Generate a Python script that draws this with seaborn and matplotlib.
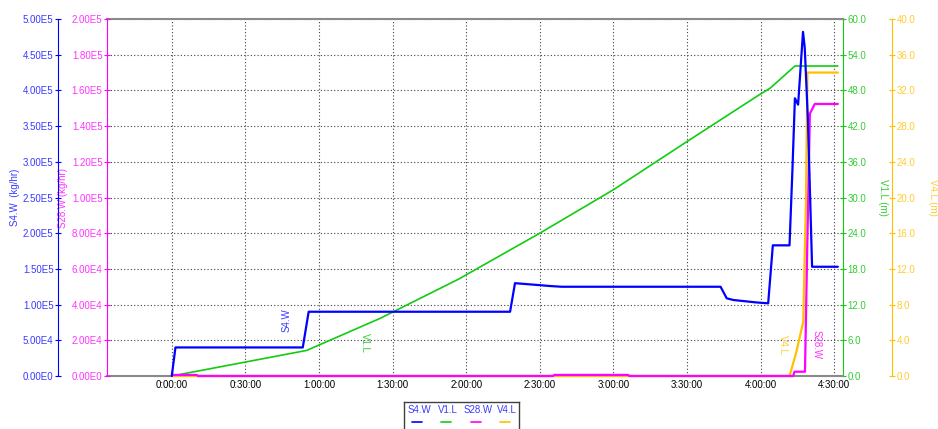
import numpy as np
import pandas as pd
import matplotlib.pyplot as plt
import seaborn as sns

# time axis in minutes from start of run
s4w_t = [0, 1.5, 53.4, 55.8, 137.9, 139.9, 149.4, 154.2, 158.9, 223.7, 226.2, 229.0,
         238.4, 243.1, 245.0, 251.8, 253.0, 254.0, 255.3, 257.3, 258.0, 259.3, 261.0, 271.5]
s4w = [0, 4.0e4, 4.0e4, 9.0e4, 9.0e4, 1.30e5, 1.274e5, 1.26e5, 1.25e5, 1.25e5, 1.088e5, 1.064e5,
       1.03e5, 1.018e5, 1.83e5, 1.83e5, 2.9e5, 3.89e5, 3.80e5, 4.82e5, 4.6e5, 3.59e5, 1.53e5, 1.53e5]

v1l_t = [0, 55, 85, 117, 150, 180, 210, 240, 244, 254, 271.5]
v1l = [0, 4.3, 9.7, 16.3, 24.0, 31.3, 39.4, 47.4, 48.4, 52.1, 52.1]

s28w_t = [0, 0.5, 10.2, 10.7, 155.4, 155.9, 186.0, 186.5, 253.3, 253.8, 258.1, 259.0,
          260.1, 262.1, 271.5]
s28w = [0, 6e2, 6e2, 0, 0, 6e2, 6e2, 0, 0, 2.4e3, 2.4e3, 7.0e4,
        1.47e5, 1.524e5, 1.524e5]

v4l_t = [0, 251.8, 254.5, 257.4, 258.5, 259.1, 271.5]
v4l = [0, 0, 2.6, 6.1, 19.7, 34.0, 34.0]

# ticks
x_ticks = [0, 30, 60, 90, 120, 150, 180, 210, 240, 270]
x_labels = ["0:00:00", "0:30:00", "1:00:00", "1:30:00", "2:00:00", "2:30:00",
            "3:00:00", "3:30:00", "4:00:00", "4:30:00"]
s4w_ticks = [0, 5e4, 1e5, 1.5e5, 2e5, 2.5e5, 3e5, 3.5e5, 4e5, 4.5e5, 5e5]
s4w_labels = ["0.00E0", "5.00E4", "1.00E5", "1.50E5", "2.00E5", "2.50E5",
              "3.00E5", "3.50E5", "4.00E5", "4.50E5", "5.00E5"]
s28w_ticks = [0, 2e4, 4e4, 6e4, 8e4, 1e5, 1.2e5, 1.4e5, 1.6e5, 1.8e5, 2e5]
s28w_labels = ["0.00E0", "2.00E4", "4.00E4", "6.00E4", "8.00E4", "1.00E5",
               "1.20E5", "1.40E5", "1.60E5", "1.80E5", "2.00E5"]
v1l_ticks = [0, 6, 12, 18, 24, 30, 36, 42, 48, 54, 60]
v1l_labels = ["0.0", "6.0", "12.0", "18.0", "24.0", "30.0", "36.0", "42.0", "48.0", "54.0", "60.0"]
v4l_ticks = [0, 4, 8, 12, 16, 20, 24, 28, 32, 36, 40]
v4l_labels = ["0.0", "4.0", "8.0", "12.0", "16.0", "20.0", "24.0", "28.0", "32.0", "36.0", "40.0"]

blue, blue_txt = "#0000ff", "#3a3aff"
green, green_txt = "#11cc11", "#33cc33"
mag, mag_txt = "#ff00ff", "#ff33ff"
yel, yel_txt = "#ffc000", "#ffcc33"

sns.set_style("white")
plt.rcParams["font.family"] = ["Liberation Sans", "DejaVu Sans"]
plt.rcParams["font.size"] = 7

fig = plt.figure(figsize=(9.38, 4.29), dpi=100)
ax = fig.add_axes([107/938, 1-376/429, (843-107)/938, (376-19)/429])
ax_g = ax.twinx()
ax_y = ax.twinx()
ax_m = ax.twinx()
ax.set_zorder(4)
ax.patch.set_visible(False)

off = 49*0.72  # outward offset in points

# blue axis (base)
sns.lineplot(x=s4w_t, y=s4w, ax=ax, color=blue, linewidth=1.6, estimator=None, sort=False)
ax.set_xlim(-26.4, 273.6)
ax.set_ylim(0, 5e5)
ax.set_xticks(x_ticks)
ax.set_xticklabels(x_labels)
ax.set_yticks(s4w_ticks)
ax.set_yticklabels(s4w_labels)
ax.spines["left"].set_position(("outward", off))
ax.spines["left"].set_color(blue)
ax.spines["right"].set_visible(False)
for s in ["top", "bottom"]:
    ax.spines[s].set_visible(False)
ax.tick_params(axis="y", direction="inout", length=4.5, width=0.8, color=blue,
               labelcolor=blue_txt, pad=1, labelsize=7, left=True)
ax.tick_params(axis="x", length=0, pad=3, labelsize=7, labelcolor="black")
ax.set_xlabel("")
ax.set_ylabel("S4.W  (kg/hr)", color=blue_txt, fontsize=7)

# green axis carries the grid and the grey frame (drawn lowest)
sns.lineplot(x=v1l_t, y=v1l, ax=ax_g, color=green, linewidth=1.2, estimator=None, sort=False)
ax_g.set_ylim(0, 60)
ax_g.set_yticks(v1l_ticks)
ax_g.set_yticklabels(v1l_labels)
ax_g.set_zorder(1)
ax_g.patch.set_visible(True)
ax_g.patch.set_facecolor("white")
ax_g.xaxis.set_visible(True)
ax_g.grid(True, axis="both", color="#404040", linestyle=(0, (1, 2)), linewidth=0.8)
ax_g.tick_params(axis="x", bottom=False, top=False, labelbottom=False, labeltop=False)
ax_g.spines["left"].set_visible(False)
for s in ["top", "bottom"]:
    ax_g.spines[s].set_color("#8a8a8a")
    ax_g.spines[s].set_linewidth(1.5)
ax_g.spines["right"].set_color(green)
ax_g.tick_params(axis="y", direction="inout", length=4.5, width=0.8, color=green,
                 labelcolor=green_txt, pad=1, labelsize=7, right=True)
ax_g.set_ylabel("V1.L (m)", color=green_txt, fontsize=7)

# yellow axis
sns.lineplot(x=v4l_t, y=v4l, ax=ax_y, color=yel, linewidth=1.6, estimator=None, sort=False)
ax_y.set_ylim(0, 40)
ax_y.set_yticks(v4l_ticks)
ax_y.set_yticklabels(v4l_labels)
ax_y.set_zorder(2)
for s in ["top", "bottom", "left"]:
    ax_y.spines[s].set_visible(False)
ax_y.spines["right"].set_position(("outward", off))
ax_y.spines["right"].set_color(yel)
ax_y.tick_params(axis="y", direction="inout", length=4.5, width=0.8, color=yel,
                 labelcolor=yel_txt, pad=1, labelsize=7, right=True)
ax_y.set_ylabel("V4.L (m)", color=yel_txt, fontsize=7)

# magenta axis
sns.lineplot(x=s28w_t, y=s28w, ax=ax_m, color=mag, linewidth=1.6, estimator=None, sort=False)
ax_m.set_ylim(0, 2e5)
ax_m.set_yticks(s28w_ticks)
ax_m.set_yticklabels(s28w_labels)
ax_m.set_zorder(3)
ax_m.yaxis.set_ticks_position("left")
ax_m.yaxis.set_label_position("left")
for s in ["top", "bottom", "right"]:
    ax_m.spines[s].set_visible(False)
ax_m.spines["left"].set_visible(True)
ax_m.spines["left"].set_color(mag)
ax_m.tick_params(axis="y", direction="inout", length=4.5, width=0.8, color=mag,
                 labelcolor=mag_txt, pad=1, labelsize=7, left=True, right=False)
ax_m.set_ylabel("S28.W (kg/hr)", color=mag_txt, fontsize=7)

for a in [ax_g, ax_y, ax_m]:
    a.set_xlim(-26.4, 273.6)
    a.set_xlabel("")

# let the zero lines sit over the grey bottom frame
for a in [ax, ax_m, ax_g, ax_y]:
    for ln in a.get_lines():
        if ln.get_linestyle() == "-":
            ln.set_clip_on(False)

# axis label placement
ax.yaxis.set_label_coords((15-107)/736, 0.5)
ax_m.yaxis.set_label_coords((63-107)/736, 0.5)
ax_g.yaxis.set_label_coords((883-107)/736, 0.5)
ax_y.yaxis.set_label_coords((933-107)/736, 0.5)
for a, r in [(ax, 90), (ax_m, 90), (ax_g, 270), (ax_y, 270)]:
    a.yaxis.label.set(rotation=r, ha="center", va="center", rotation_mode="anchor")

# inline curve labels
ax.text(46.9, 0.78e5, "S4.W", color=blue_txt, rotation=90, ha="center", va="center", fontsize=7)
ax_g.text(78.7, 5.5, "V1.L", color=green_txt, rotation=270, ha="center", va="center", fontsize=7)
ax_y.text(249.1, 3.5, "V4.L", color=yel_txt, rotation=270, ha="center", va="center", fontsize=7)
ax_m.text(263.0, 1.74e4, "S28.W", color=mag_txt, rotation=270, ha="center", va="center", fontsize=7)

# legend box at the bottom
leg = fig.add_axes([404/938, -0.05, 115/938, (429-402)/429 + 0.05])
leg.set_xlim(404, 519)
leg.set_ylim(450, 402)
leg.set_xticks([])
leg.set_yticks([])
for s in leg.spines.values():
    s.set_color("#404040")
    s.set_linewidth(1)
leg_names = ["S4.W", "V1.L", "S28.W", "V4.L"]
leg_x = [419, 448, 478, 507]
leg_cols = [blue, green, mag, yel]
for name, xc, col in zip(leg_names, leg_x, leg_cols):
    leg.text(xc, 410, name, color=blue_txt, ha="center", va="center", fontsize=7)
    leg.plot([xc - 7, xc + 3], [422, 422], color=col, linewidth=1.2)

fig.savefig("out.png", dpi=100)
